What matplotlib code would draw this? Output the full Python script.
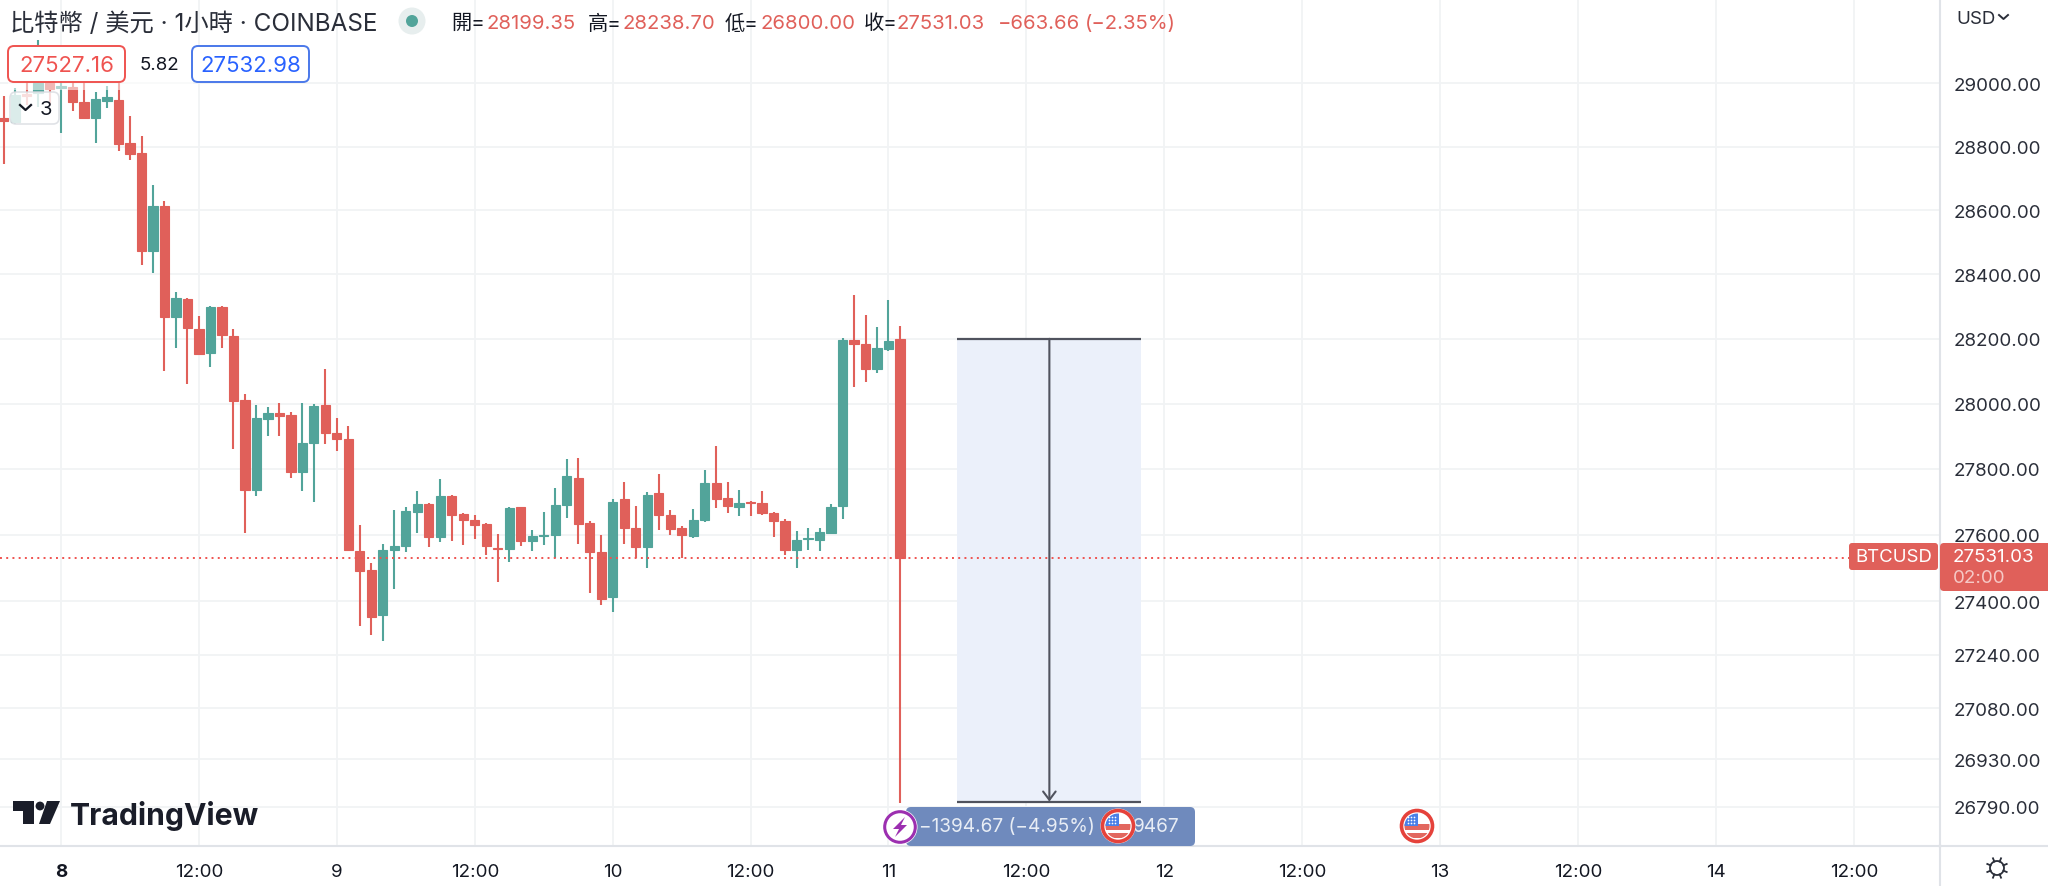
import numpy as np
import matplotlib
matplotlib.use('Agg')
import matplotlib.pyplot as plt
from matplotlib.patches import Circle, FancyBboxPatch, Polygon, Rectangle
from matplotlib.ticker import NullLocator

plt.rcParams['font.family'] = ['Inter', 'Noto Sans CJK TC', 'DejaVu Sans']

# hourly candles, hour 0 is midnight on the 8th
hours = np.arange(-5, 74)
opens = [28891, 28877, 28965, 28968, 29000, 28984, 28988, 28941, 28890, 28943, 28948, 28810, 28779, 28472, 28612, 28267,
         28322, 28229, 28157, 28297, 28208, 28010, 27737, 27952, 27970, 27964, 27792, 27880, 27996, 27909, 27892, 27552,
         27493, 27359, 27554, 27566, 27670, 27693, 27594, 27719, 27662, 27646, 27632, 27561, 27557, 27684, 27580, 27595,
         27598, 27689, 27772, 27635, 27548, 27414, 27710, 27622, 27563, 27726, 27660, 27620, 27595, 27645, 27756, 27711,
         27683, 27700, 27697, 27667, 27642, 27554, 27586, 27584, 27604, 27687, 28195, 28184, 28107, 28169, 28199.35]
highs = [28960, 28984, 29025, 29139, 29041, 29009, 29009, 29000, 28972, 28991, 29000, 28897, 28833, 28678, 28628, 28344,
         28325, 28270, 28302, 28300, 28231, 28029, 27996, 27989, 28003, 27975, 28003, 27999, 28106, 27957, 27930, 27629,
         27516, 27573, 27676, 27685, 27733, 27695, 27768, 27720, 27667, 27661, 27637, 27601, 27685, 27685, 27615, 27669,
         27743, 27831, 27834, 27643, 27599, 27708, 27759, 27686, 27731, 27784, 27674, 27626, 27679, 27798, 27871, 27761,
         27735, 27704, 27733, 27668, 27648, 27611, 27620, 27622, 27694, 28203, 28335, 28273, 28236, 28320, 28238.70]
lows = [28744, 28870, 28930, 28924, 28930, 28843, 28912, 28891, 28810, 28921, 28786, 28756, 28430, 28402, 28100, 28171,
        28059, 28149, 28112, 28171, 27862, 27605, 27717, 27900, 27900, 27771, 27733, 27700, 27875, 27856, 27554, 27327,
        27300, 27280, 27438, 27548, 27607, 27563, 27579, 27582, 27570, 27588, 27540, 27457, 27518, 27566, 27550, 27568,
        27531, 27652, 27573, 27424, 27389, 27368, 27573, 27531, 27501, 27616, 27598, 27530, 27591, 27639, 27681, 27666,
        27657, 27657, 27661, 27593, 27539, 27501, 27555, 27550, 27604, 27648, 28051, 28067, 28095, 28163, 26800.00]
closes = [28881, 28962, 28959, 29000, 28981, 28991, 28940, 28891, 28949, 28956, 28807, 28775, 28472, 28612, 28267, 28326,
          28233, 28153, 28297, 28210, 28009, 27737, 27955, 27971, 27963, 27790, 27880, 27992, 27909, 27892, 27554, 27490,
          27354, 27553, 27567, 27672, 27694, 27594, 27719, 27659, 27645, 27631, 27566, 27557, 27681, 27580, 27596, 27598,
          27691, 27777, 27634, 27549, 27407, 27700, 27622, 27563, 27722, 27659, 27619, 27598, 27646, 27756, 27710, 27687,
          27697, 27696, 27666, 27643, 27554, 27585, 27589, 27608, 27685, 28195, 28183, 28107, 28170, 28194, 27531.03]

price_ticks = [29000, 28800, 28600, 28400, 28200, 28000, 27800, 27600, 27400, 27240, 27080, 26930, 26790]
time_ticks = [0, 12, 24, 36, 48, 60, 72, 84, 96, 108, 120, 132, 144, 156]
time_labels = ['8', '12:00', '9', '12:00', '10', '12:00', '11', '12:00', '12', '12:00', '13', '12:00', '14', '12:00']

last_price = 27531.03
measure_start, measure_end = 78, 94
measure_top, measure_bottom = 28199.35, 26804.68

RED = '#e0605a'
GREEN = '#52a49a'
TEXT = '#131722'
GRID = '#f1f3f5'
AXIS = '#e0e3e8'

W, H = 2048, 887
fig = plt.figure(figsize=(W / 100, H / 100), dpi=100, facecolor='white')
ax = fig.add_axes([0, (H - 847) / H, 1940 / W, 847 / H])
ax.set_yscale('log')
ax.set_xlim(-5.314, 163.5)
ax.set_ylim(26674.5, 29269.5)

ax.set_axisbelow(True)
ax.grid(True, color=GRID, lw=1.3)
ax.yaxis.tick_right()
ax.yaxis.set_minor_locator(NullLocator())
ax.set_yticks(price_ticks, [f'{p:.2f}' for p in price_ticks])
ax.set_xticks(time_ticks, time_labels)
ax.tick_params(axis='both', length=0, labelsize=13.5, labelcolor=TEXT)
ax.tick_params(axis='y', pad=9.5)
ax.tick_params(axis='x', pad=12)
ax.get_xticklabels()[0].set_fontweight('bold')
for lab in ax.get_yticklabels():
    lab.set_color('#2a2e39')
for s in ['top', 'left']:
    ax.spines[s].set_visible(False)
for s in ['right', 'bottom']:
    ax.spines[s].set_color(AXIS)
    ax.spines[s].set_linewidth(1.5)

# candles
colors = [GREEN if c >= o else RED for o, c in zip(opens, closes)]
ax.vlines(hours, lows, highs, colors=colors, lw=1.5, zorder=3)
body_low = np.minimum(opens, closes)
body_high = np.maximum(opens, closes)
ax.bar(hours, body_high - body_low, bottom=body_low, width=0.8, color=colors, edgecolor=colors, lw=0.8, zorder=4)

# last price line
ax.axhline(last_price, xmax=1849 / 1940, color='#ef5350', lw=1.4, ls=(0, (1, 2.2)), zorder=5)

# price range measurement
ax.fill_between([measure_start, measure_end], measure_bottom, measure_top, color='#ebf0fa', lw=0, zorder=2)
ax.hlines([measure_top, measure_bottom], measure_start, measure_end, color='#50535e', lw=1.6, zorder=5)
ax.annotate('', xy=(86, measure_bottom), xytext=(86, measure_top), zorder=5,
            arrowprops=dict(arrowstyle='->,head_length=0.6,head_width=0.45', color='#50535e', lw=1.5,
                            shrinkA=0, shrinkB=0))

# everything below is chart furniture placed in pixels
ov = fig.add_axes([0, 0, 1, 1])
ov.set_xlim(0, W)
ov.set_ylim(H, 0)
ov.axis('off')
ov.patch.set_visible(False)


def round_box(x0, y0, x1, y1, face, edge='none', r=6, lw=1.4, alpha=None, z=6):
    p = FancyBboxPatch((x0, y0), x1 - x0, y1 - y0, boxstyle=f'round,pad=0,rounding_size={r}',
                       fc=face, ec=edge, lw=lw, alpha=alpha, zorder=z)
    ov.add_patch(p)


def flag(cx, cy):
    ov.add_patch(Circle((cx, cy), 17.5, fc='white', ec='none', zorder=8))
    ov.add_patch(Circle((cx, cy), 15.5, fc='white', ec='#e5423b', lw=2.6, zorder=9))
    clip = Circle((cx, cy), 12.5, transform=ov.transData)
    for y0, h in [(-1.5, 5.5), (7, 5.5)]:
        r = Rectangle((cx - 13, cy + y0), 26, h, fc='#e2675f', ec='none', zorder=10)
        ov.add_patch(r)
        r.set_clip_path(clip)
    r = Rectangle((cx - 13, cy - 13), 14, 13.5, fc='#4a80e8', ec='none', zorder=11)
    ov.add_patch(r)
    r.set_clip_path(clip)
    dx, dy = np.meshgrid(np.arange(cx - 9, cx, 3), np.arange(cy - 9, cy, 3))
    ov.scatter(dx.ravel(), dy.ravel(), s=1.5, c='white', lw=0, zorder=12)


# faded candles under the legend rows
ov.add_patch(Rectangle((8, 83), 185, 8, fc='white', alpha=0.55, ec='none', zorder=5))

# header row
ov.text(10, 24, '比特幣 / 美元 · 1小時 · COINBASE', fontsize=17.5, color='#2a2e39', va='center')
ov.add_patch(Circle((412, 22), 13.5, fc='#e7eeee', ec='none', zorder=6))
ov.add_patch(Circle((412, 22), 6, fc=GREEN, ec='none', zorder=7))
header = [(451, '開=', TEXT), (486, '28199.35', RED), (588, '高=', TEXT), (623, '28238.70', RED),
          (725, '低=', TEXT), (760, '26800.00', RED), (864, '收=', TEXT), (897, '27531.03', RED),
          (998, '−663.66', RED), (1085, '(−2.35%)', RED)]
for hx, s, c in header:
    ov.text(hx, 24, s, fontsize=14.6, color=c, va='center')

# bid and ask row
round_box(8, 47, 125, 83, 'white', edge='#ef5350')
ov.text(66.5, 66, '27527.16', fontsize=16, color='#ef5350', ha='center', va='center', zorder=7)
ov.text(159, 66, '5.82', fontsize=13.5, color=TEXT, ha='center', va='center', zorder=7)
round_box(192, 47, 309, 83, 'white', edge='#4a78ea')
ov.text(250.5, 66, '27532.98', fontsize=16, color='#2962ff', ha='center', va='center', zorder=7)

# collapsed indicators button
round_box(10, 93, 59, 125, 'white', edge='#d8dbe0', alpha=0.8, lw=1.2)
ov.plot([20, 25.5, 31], [106, 111, 106], color=TEXT, lw=1.6, zorder=7)
ov.text(46, 110, '3', fontsize=14.5, color=TEXT, ha='center', va='center', zorder=7)

# TradingView mark
ov.add_patch(Polygon([(13, 802), (34, 802), (34, 825), (23, 825), (23, 812), (13, 812)], fc='#1a1d29', ec='none', zorder=6))
ov.add_patch(Circle((40, 807), 4.4, fc='#1a1d29', ec='none', zorder=6))
ov.add_patch(Polygon([(47, 802), (60, 802), (50, 825), (39, 825)], fc='#1a1d29', ec='none', zorder=6))
ov.text(70, 825, 'TradingView', fontsize=21.7, fontweight='bold', color='#1a1d29', va='baseline', zorder=6)

# range label with the event icons on top
round_box(906, 808, 1195, 847, '#6f8abd', r=5, z=6)
ov.text(919, 827.5, '−1394.67 (−4.95%)', fontsize=13.7, color='#e8edf5', va='center', zorder=7)
ov.text(1179, 827.5, '9467', fontsize=13.7, color='#e8edf5', ha='right', va='center', zorder=7)
ov.add_patch(Circle((900, 828), 17.5, fc='white', ec='none', zorder=8))
ov.add_patch(Circle((900, 828), 15.3, fc='white', ec='#9c2fb0', lw=2.2, zorder=9))
ov.add_patch(Polygon([(905, 818), (893, 830), (899, 830), (895, 838), (907, 826), (901, 826)],
                     fc='#9c2fb0', ec='none', zorder=10))
flag(1118, 827)
flag(1417, 827)

# price scale furniture
ov.plot([1940, W], [847, 847], color=AXIS, lw=1.5, zorder=5)
ov.plot([1940, 1940], [847, H], color=AXIS, lw=1.5, zorder=5)
ov.text(1956, 20, 'USD', fontsize=13.5, color='#2a2e39', va='center')
ov.plot([1999, 2003.5, 2008], [16, 20, 16], color='#2a2e39', lw=1.4)

round_box(1849, 544, 1938, 571, RED, r=3)
ov.text(1893.5, 557.5, 'BTCUSD', fontsize=13.4, color='white', ha='center', va='center', zorder=7)
round_box(1940, 544, W + 6, 592, RED, r=4)
ov.text(1953, 557.5, '27531.03', fontsize=13.5, color='white', va='center', zorder=7)
ov.text(1953, 579, '02:00', fontsize=13.5, color='#f6c9c6', va='center', zorder=7)

# settings gear
ov.add_patch(Circle((1997, 869), 7, fc='none', ec='#2a2e39', lw=1.3))
for a in np.arange(0, 360, 45):
    ca, sa = np.cos(np.radians(a + 22.5)), np.sin(np.radians(a + 22.5))
    ov.plot([1997 + 7 * ca, 1997 + 10.5 * ca], [869 + 7 * sa, 869 + 10.5 * sa], color='#2a2e39', lw=1.3)

fig.savefig('out.png', dpi=100)
